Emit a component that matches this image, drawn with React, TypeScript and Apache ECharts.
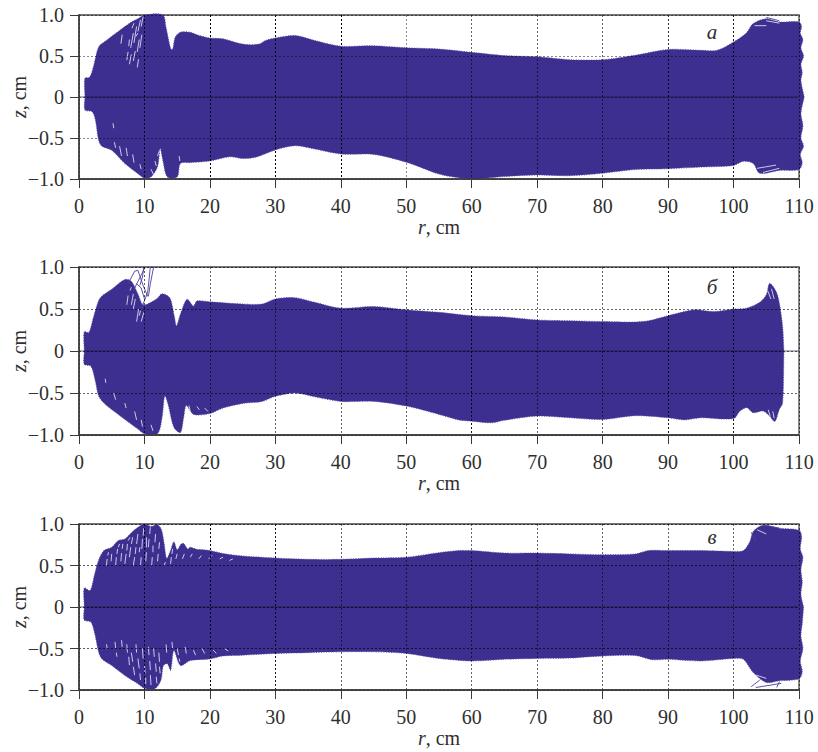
import React, { useEffect, useRef } from "react";
import * as echarts from "echarts";

const xTicks = [0, 10, 20, 30, 40, 50, 60, 70, 80, 90, 100, 110];
const yTicks = [-1, -0.5, 0, 0.5, 1];
const panelLetters = ["а", "б", "в"];

// Each envelope runs from small r to large r, as [r, z].
const upperA = [[0.9,0],[0.9,0.23],[1.6,0.24],[2.2,0.37],[3,0.61],[4,0.68],[6,0.8],[8,0.915],[9,0.955],[10,1],[12.8,1],[13.3,0.85],[14,0.59],[14.3,0.58],[14.7,0.73],[15.5,0.79],[17,0.79],[18,0.76],[20,0.72],[22,0.71],[25,0.645],[27.5,0.645],[28.5,0.69],[30,0.72],[33,0.75],[36,0.69],[40,0.62],[45,0.625],[50,0.6],[55,0.585],[60,0.545],[65,0.505],[70,0.49],[75,0.455],[80,0.455],[85,0.51],[90,0.58],[95,0.57],[97.5,0.57],[100,0.67],[102,0.785],[103,0.895],[105,0.955],[107,0.915],[110,0.915],[110.4,0.86],[110.2,0.78],[110.6,0.7],[110.3,0.6],[110.7,0.5],[110.3,0.4],[110.5,0.3],[110.3,0.2],[110.8,0]];
const lowerA = [[0.9,0],[0.9,-0.16],[2,-0.18],[2.5,-0.28],[3,-0.53],[3.5,-0.6],[5,-0.65],[7,-0.81],[9,-0.935],[10,-0.99],[11,-0.975],[12,-0.85],[12.4,-0.63],[12.8,-0.77],[13.5,-0.975],[15,-0.975],[15.5,-0.81],[17,-0.8],[20,-0.78],[23,-0.73],[25,-0.75],[27,-0.735],[30,-0.645],[33,-0.595],[36,-0.635],[40,-0.695],[45,-0.7],[50,-0.795],[55,-0.94],[58,-0.985],[60.5,-1],[65,-0.97],[70,-0.95],[75,-0.96],[80,-0.93],[85,-0.885],[90,-0.875],[95,-0.855],[100,-0.835],[101.5,-0.785],[103,-0.81],[104,-0.93],[107,-0.895],[110,-0.885],[110.5,-0.8],[110.2,-0.7],[110.7,-0.6],[110.3,-0.5],[110.6,-0.35],[110.3,-0.2],[110.8,0]];

const upperB = [[0.8,0],[0.8,0.23],[1.5,0.22],[2.2,0.4],[3,0.6],[3.5,0.655],[5,0.735],[7,0.85],[8,0.83],[9,0.68],[9.8,0.55],[11,0.58],[12,0.63],[12.6,0.68],[13.5,0.66],[14,0.615],[14.6,0.4],[14.9,0.3],[15.5,0.44],[16.5,0.615],[17.5,0.535],[18,0.595],[20,0.585],[25,0.56],[28,0.56],[30,0.62],[33,0.635],[36,0.58],[40,0.51],[45,0.53],[50,0.49],[55,0.46],[60,0.42],[65,0.405],[70,0.37],[75,0.36],[80,0.35],[83,0.345],[85,0.345],[87,0.36],[90,0.42],[94,0.49],[97,0.47],[100,0.5],[102,0.51],[104,0.58],[105,0.67],[105.5,0.805],[106.5,0.71],[107,0.57],[107.5,0.29],[107.7,0]];
const lowerB = [[0.8,0],[0.8,-0.16],[1.8,-0.18],[2.5,-0.36],[3,-0.535],[4,-0.635],[6,-0.755],[7,-0.815],[9,-0.93],[10,-0.985],[12,-0.985],[12.7,-0.79],[13.1,-0.535],[13.6,-0.635],[14.5,-0.91],[15.5,-0.97],[16,-0.79],[16.4,-0.65],[17.5,-0.755],[20,-0.745],[22,-0.68],[25,-0.625],[28,-0.6],[30,-0.54],[33,-0.5],[36,-0.545],[40,-0.6],[45,-0.6],[50,-0.655],[55,-0.755],[58,-0.82],[60,-0.835],[63,-0.855],[65,-0.825],[70,-0.775],[75,-0.795],[80,-0.815],[85,-0.77],[90,-0.795],[92.5,-0.82],[95,-0.795],[100,-0.805],[101,-0.715],[102,-0.675],[103,-0.735],[104.5,-0.715],[105.5,-0.775],[106.3,-0.84],[107,-0.695],[107.5,-0.62],[107.7,0]];

const upperC = [[0.8,0],[0.8,0.23],[1.7,0.2],[2.4,0.4],[3,0.565],[3.8,0.68],[5,0.72],[6,0.8],[7,0.82],[8,0.895],[9,0.96],[10,1],[11,0.97],[12,0.99],[12.6,0.93],[13,0.77],[13.4,0.585],[14,0.685],[14.5,0.785],[15,0.69],[15.6,0.76],[16,0.765],[16.6,0.7],[17,0.72],[18,0.695],[19,0.69],[20,0.68],[22,0.645],[25,0.615],[30,0.59],[35,0.575],[40,0.575],[45,0.59],[50,0.6],[55,0.655],[58,0.68],[60,0.68],[65,0.65],[70,0.65],[75,0.64],[80,0.63],[85,0.64],[87,0.68],[90,0.68],[95,0.68],[100,0.67],[101.5,0.68],[102.5,0.79],[103,0.91],[104.5,0.985],[107,0.95],[110,0.925],[110.4,0.85],[110.2,0.7],[110.6,0.6],[110.3,0.45],[110.5,0.3],[110.3,0.15],[110.7,0]];
const lowerC = [[0.8,0],[0.8,-0.16],[1.8,-0.18],[2.4,-0.32],[3,-0.545],[3.5,-0.625],[5,-0.705],[7,-0.825],[9,-0.925],[10,-0.98],[11.5,-0.99],[12.5,-0.885],[12.9,-0.705],[13.5,-0.685],[14,-0.765],[14.5,-0.525],[15.5,-0.705],[17,-0.645],[20,-0.625],[22,-0.59],[25,-0.58],[30,-0.56],[35,-0.55],[40,-0.54],[45,-0.54],[50,-0.56],[55,-0.62],[60,-0.65],[65,-0.63],[70,-0.62],[75,-0.615],[80,-0.59],[85,-0.585],[87.5,-0.635],[90,-0.63],[95,-0.65],[100,-0.62],[101.5,-0.63],[103,-0.79],[105,-0.91],[107,-0.89],[110,-0.865],[110.5,-0.78],[110.2,-0.65],[110.6,-0.5],[110.3,-0.35],[110.5,-0.2],[110.7,0]];

// Thin gaps in the sparse parts of each cloud and loose trajectories beyond it, as [r1, z1, r2, z2].
const gapsA = [[7.3,0.45,7.5,0.55],[7.6,0.62,7.7,0.7],[7.7,0.4,8,0.52],[7.9,0.6,8.3,0.78],[8.3,0.44,8.6,0.56],[8.4,0.66,8.8,0.86],[8.9,0.36,9.1,0.46],[8.9,0.55,9.2,0.7],[9,0.8,9.4,0.94],[9.3,0.6,9.6,0.76],[9.5,0.86,9.8,0.98],[8.1,0.84,8.4,0.9],[6.4,0.65,6.6,0.76],[8.7,0.74,9,0.78],[5.4,-0.55,5.6,-0.62],[5.2,-0.32,5.3,-0.38],[6.2,-0.6,6.5,-0.72],[7.2,-0.62,7.4,-0.72],[8.2,-0.7,8.4,-0.8],[9.3,-0.82,9.5,-0.88],[11,-0.88,11.4,-0.95],[12,-0.72,12.3,-0.65],[15.3,-0.72,15.4,-0.78],[11.6,-0.78,11.8,-0.84],[103.6,-0.87,106.5,-0.83],[104.5,-0.92,107,-0.87],[103.2,0.87,105,0.87],[105,0.93,107,0.9]];
const strandsA = [[105,0.97,107,0.93]];

const gapsB = [[8.3,0.5,8.6,0.62],[8.8,0.35,9.1,0.5],[9.5,0.35,9.9,0.46],[8,0.55,8.3,0.68],[7.3,0.55,7.5,0.66],[7.8,0.72,8,0.76],[9.2,0.42,9.4,0.48],[4,-0.33,4.1,-0.38],[5.3,-0.5,5.6,-0.58],[7,-0.62,7.2,-0.68],[8.5,-0.72,8.8,-0.82],[9.5,-0.82,9.7,-0.9],[11,-0.88,11.3,-0.95],[16.8,-0.65,17,-0.72],[18,-0.66,18.4,-0.7],[19.2,-0.68,19.7,-0.72],[105.2,0.72,105.7,0.62],[105.8,0.74,106.2,0.62],[105.3,-0.7,105.6,-0.78],[106,-0.72,106.2,-0.8]];
const strandsB = [[7.5,0.8,8.5,0.95],[8.5,0.95,9,0.96],[9,0.96,9.8,0.78],[9.8,0.78,10.5,0.65],[8.3,0.72,9.6,0.92],[9.6,0.92,10.1,1],[10.9,1,10.7,0.85],[10.7,0.85,10.5,0.7],[10.5,0.7,9.5,0.5],[11.4,1,10.9,0.8],[10.9,0.8,10.6,0.65],[8.8,0.8,9.5,0.75],[9.5,0.75,10,0.62],[9.9,1,9.7,0.88],[9.7,0.88,9.3,0.78]];

const gapsC = [[4.2,0.5,4.3,0.58],[4.4,0.62,4.5,0.66],[4.9,0.55,5,0.64],[5.6,0.5,5.7,0.6],[5.8,0.64,5.9,0.7],[6.4,0.55,6.5,0.65],[6.6,0.7,6.7,0.76],[7,0.52,7.2,0.64],[7.3,0.68,7.4,0.76],[7.7,0.6,7.9,0.72],[8,0.76,8.2,0.84],[8.3,0.5,8.5,0.6],[8.6,0.64,8.7,0.72],[8.8,0.76,9,0.88],[9.4,0.5,9.5,0.6],[9.6,0.7,9.7,0.82],[9.8,0.86,9.9,0.95],[10.2,0.55,10.3,0.66],[10.3,0.72,10.3,0.84],[10.6,0.72,10.7,0.82],[10.8,0.88,10.9,0.96],[11.1,0.5,11.2,0.6],[11.3,0.66,11.3,0.74],[11.6,0.78,11.7,0.88],[12,0.55,12.1,0.64],[12.2,0.7,12.3,0.78],[6,0.72,6.2,0.76],[7.5,0.8,7.8,0.84],[9.2,0.66,9.3,0.72],[13,0.5,13.2,0.54],[14,0.52,14.1,0.6],[14.2,0.64,14.3,0.7],[14.8,0.58,15,0.64],[15.8,0.58,16.1,0.64],[17,0.6,17.3,0.64],[18.3,0.58,18.7,0.62],[19.8,0.58,20.3,0.62],[21.5,0.58,22,0.6],[23,0.56,23.5,0.58],[4.2,-0.45,4.3,-0.5],[5.5,-0.42,5.6,-0.5],[5.7,-0.55,5.8,-0.6],[6.5,-0.4,6.6,-0.48],[7.3,-0.45,7.4,-0.55],[7.6,-0.6,7.7,-0.7],[8,-0.55,8.2,-0.66],[8.3,-0.72,8.5,-0.82],[8.7,-0.45,8.8,-0.55],[9,-0.62,9.2,-0.74],[9.3,-0.8,9.4,-0.88],[9.7,-0.5,9.8,-0.62],[10,-0.7,10.1,-0.8],[10.2,-0.85,10.2,-0.93],[10.6,-0.48,10.7,-0.58],[10.8,-0.65,10.9,-0.76],[10.9,-0.82,11,-0.94],[11.4,-0.5,11.5,-0.6],[11.7,-0.68,11.8,-0.78],[11.8,-0.84,11.9,-0.92],[12.2,-0.55,12.3,-0.66],[12.3,-0.72,12.4,-0.8],[13.3,-0.45,13.4,-0.55],[14.2,-0.42,14.3,-0.5],[15,-0.5,15.2,-0.58],[15.3,-0.62,15.4,-0.66],[16.2,-0.48,16.4,-0.56],[17.5,-0.52,17.8,-0.58],[18.8,-0.5,19.2,-0.56],[20.5,-0.52,21,-0.56],[22.2,-0.5,22.8,-0.53],[103.6,0.93,105,0.88],[103.4,-0.82,105,-0.86]];
const strandsC = [[102.7,-0.96,104,-0.88],[103.4,-0.97,107.3,-0.92],[106.6,-0.97,107,-0.9],[102.7,0.9,103.5,0.78],[104.5,0.99,107,0.95]];

const panels = [
  { upper: upperA, lower: lowerA, gaps: gapsA, strands: strandsA, top: 15, height: 164, lx: 712, ly: 32, gx: [0.6,0.9,1,1,1,0.45,0.6,0.6,0.6,0.8,0.9,0.6], gy: 0.45 },
  { upper: upperB, lower: lowerB, gaps: gapsB, strands: strandsB, top: 267, height: 168, lx: 712, ly: 287, gx: [0.6,0.65,0.6,0.6,0.6,0.6,0.9,0.6,0.6,0.9,0.9,0.6], gy: 0.6 },
  { upper: upperC, lower: lowerC, gaps: gapsC, strands: strandsC, top: 524, height: 166, lx: 712, ly: 537, gx: [0.6,0.9,1,0.9,0.6,0.6,0.6,0.6,0.6,0.6,0.6,0.6], gy: 0.65 },
];

const FONT = "'Liberation Serif', serif";
const INK = "#2f2f2f";
const CLOUD = "#3d2f8f";

function outline(p: (typeof panels)[number]) {
  return [...p.upper, ...[...p.lower].reverse()];
}

function option(): any {
  const grid: any[] = [], xAxis: any[] = [], yAxis: any[] = [], series: any[] = [], graphic: any[] = [];
  panels.forEach((p, i) => {
    grid.push({ left: 79, width: 720, top: p.top, height: p.height, outerBoundsMode: "none", show: true, borderColor: "#4a4a4a", borderWidth: 1.3, backgroundColor: "transparent" });
    const nameStyle = { fontFamily: FONT, fontSize: 20, color: INK, rich: { i: { fontFamily: FONT, fontSize: 20, fontStyle: "italic", color: INK } } };
    xAxis.push({
      type: "value", gridIndex: i, min: 0, max: 110, interval: 10, z: 6,
      name: "{i|r}, cm", nameLocation: "middle", nameGap: 38, nameMoveOverlap: false, nameTextStyle: nameStyle,
      axisLine: { show: true, onZero: false, lineStyle: { color: "#3a3a3a", width: 1.5 } },
      axisTick: { show: true, length: 9, lineStyle: { color: "#3a3a3a", width: 1 } },
      axisLabel: { margin: 17, fontFamily: FONT, fontSize: 20, color: INK, formatter: (v: number) => (xTicks.includes(v) ? String(v) : ""), hideOverlap: false, showMinLabel: true, showMaxLabel: true },
      splitLine: { show: true, lineStyle: { color: p.gx.map((a) => `rgba(0,0,0,${a})`), width: 1, type: [2, 2] } },
    });
    yAxis.push({
      type: "value", gridIndex: i, min: -1, max: 1, interval: 0.5, z: 6,
      name: "{i|z}, cm", nameLocation: "middle", nameGap: 50, nameMoveOverlap: false, nameTextStyle: nameStyle,
      axisLine: { show: true, onZero: false, lineStyle: { color: "#3a3a3a", width: 1.5 } },
      axisTick: { show: true, length: 9, lineStyle: { color: "#3a3a3a", width: 1 } },
      axisLabel: { margin: 15, fontFamily: FONT, fontSize: 20, color: INK, showMinLabel: true, showMaxLabel: true,
        formatter: (v: number) => (yTicks.includes(v) ? (v === 0 ? "0" : (v < 0 ? "\u2212" : "") + Math.abs(v).toFixed(1)) : "") },
      splitLine: { show: true, lineStyle: { color: `rgba(0,0,0,${p.gy})`, width: 1, type: [2, 2] } },
    });
    const pts = outline(p);
    series.push({
      type: "custom", xAxisIndex: i, yAxisIndex: i, z: 2, silent: true, clip: false, data: pts,
      encode: { x: 0, y: 1 },
      renderItem: (params: any, api: any) => {
        if (params.dataIndex !== 0) return null;
        return { type: "polygon", shape: { points: pts.map(([r, z]) => api.coord([r, z])), smooth: 0.3 }, style: { fill: CLOUD, stroke: "#5a4fa8", lineWidth: 1, lineDash: [1, 1.5] } };
      },
    });
    const segs = (data: number[][], color: string, width: number, z: number) => ({
      type: "custom", xAxisIndex: i, yAxisIndex: i, z, silent: true, clip: false, data,
      encode: { x: [0, 2], y: [1, 3] },
      renderItem: (_: any, api: any) => {
        const a = api.coord([api.value(0), api.value(1)]);
        const b = api.coord([api.value(2), api.value(3)]);
        return { type: "line", shape: { x1: a[0], y1: a[1], x2: b[0], y2: b[1] }, style: { stroke: color, lineWidth: width } };
      },
    });
    series.push(segs(p.gaps, "#dcd9ef", 0.9, 3));
    series.push(segs(p.strands, "#4a3d9e", 0.9, 4));
    series.push({
      type: "line", xAxisIndex: i, yAxisIndex: i, z: 5, silent: true, showSymbol: false, data: [[0, 0], [110, 0]],
      lineStyle: { color: "rgba(25,20,60,0.65)", width: 1 },
    });
    graphic.push({ type: "text", x: p.lx, y: p.ly, style: { text: panelLetters[i], font: `italic 21px ${FONT}`, fill: INK, textAlign: "center", textVerticalAlign: "middle" } });
  });
  return { animation: false, backgroundColor: "#fff", grid, xAxis, yAxis, series, graphic };
}

export default function App() {
  const ref = useRef<HTMLDivElement>(null);
  useEffect(() => {
    const chart = echarts.init(ref.current!, undefined, { renderer: "svg" });
    chart.setOption(option());
    return () => chart.dispose();
  }, []);
  return <div ref={ref} style={{ position: "absolute", left: 0, top: 0, width: 818, height: 752 }} />;
}
